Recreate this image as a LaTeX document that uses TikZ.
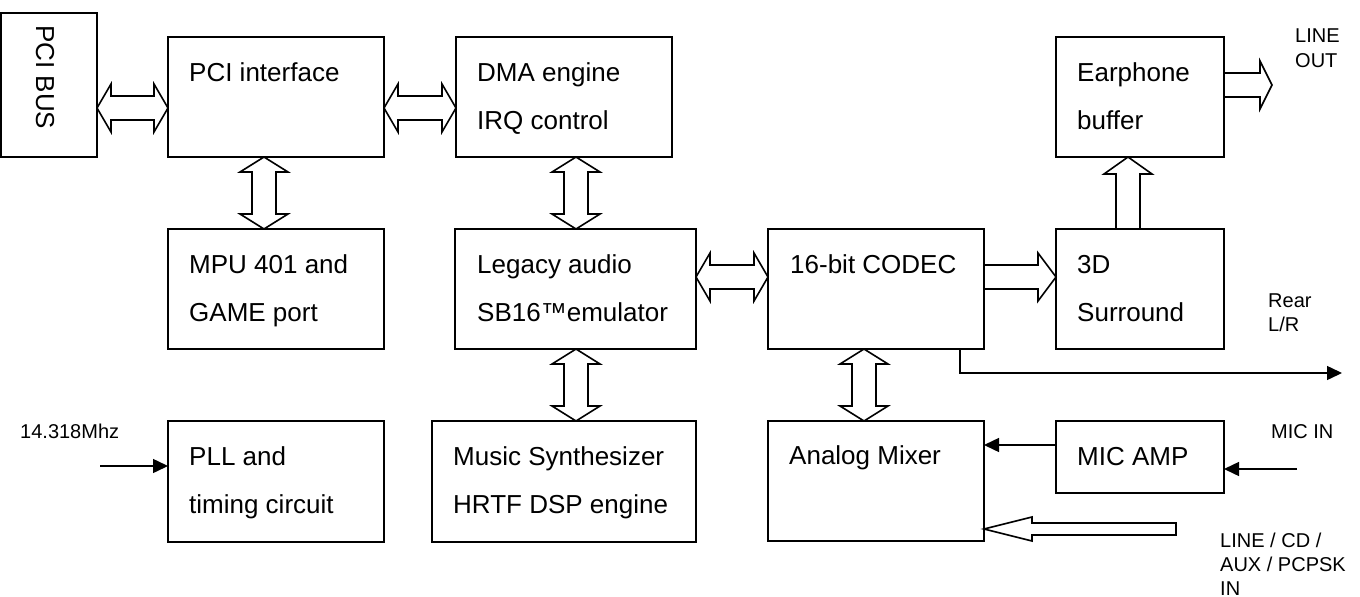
\documentclass[tikz,border=0pt]{standalone}
\usepackage{fontspec}
\setmainfont{Liberation Sans}
\usetikzlibrary{calc,arrows.meta}
% hollow double block arrow between two tips, fixed widths
\newcommand\dblarrow[3]{%
  \path (#1) coordinate (da) (#2) coordinate (db)
        ($(da)!#3!(db)$) coordinate (dA) ($(db)!#3!(da)$) coordinate (dB);
  \draw[blk] (da) -- ($(dA)!24pt!90:(db)$) -- ($(dA)!12pt!90:(db)$)
     -- ($(dB)!12pt!-90:(da)$) -- ($(dB)!24pt!-90:(da)$) -- (db)
     -- ($(dB)!24pt!90:(da)$) -- ($(dB)!12pt!90:(da)$)
     -- ($(dA)!12pt!-90:(db)$) -- ($(dA)!24pt!-90:(db)$) -- cycle;}
% hollow single block arrow: tail, tip, head length, head half width, shaft half width
\newcommand\sglarrow[5]{%
  \path (#1) coordinate (sa) (#2) coordinate (sb) ($(sb)!#3!(sa)$) coordinate (sB);
  \draw[blk] ($(sa)!#5!90:(sb)$) -- ($(sB)!#5!-90:(sa)$) -- ($(sB)!#4!-90:(sa)$)
     -- (sb) -- ($(sB)!#4!90:(sa)$) -- ($(sB)!#5!90:(sa)$)
     -- ($(sa)!#5!-90:(sb)$) -- cycle;}
\newcommand\bx[5]{\node[box,minimum width=#4pt,minimum height=#5pt] (#1) at (#2,#3) {};}
\begin{document}
\begin{tikzpicture}[x=1pt,y=-1pt,
  box/.style={draw,line width=1.6pt,anchor=north west,inner sep=0pt,outer sep=0pt},
  txt/.style={anchor=base west,inner sep=0pt,font=\fontsize{26}{30}\selectfont},
  lbl/.style={anchor=base west,inner sep=0pt,font=\fontsize{20}{24}\selectfont},
  blk/.style={draw,line width=1.6pt,fill=white,line join=miter},
  sig/.style={line width=1.5pt,-{Triangle[length=15pt,width=14pt]}}]
\useasboundingbox (0,0) rectangle (1360,597);

% boxes
\bx{bus}{1}{13}{96}{144}
\bx{pci}{168}{37}{216}{120}
\bx{dma}{456}{37}{216}{120}
\bx{ear}{1056}{37}{168}{120}
\bx{mpu}{168}{229}{216}{120}
\bx{leg}{455}{229}{241}{120}
\bx{codec}{768}{229}{216}{120}
\bx{sur}{1056}{229}{168}{120}
\bx{pll}{168}{421}{216}{121}
\bx{mus}{432}{421}{264}{121}
\bx{mixer}{768}{421}{216}{120}
\bx{micamp}{1056}{421}{168}{72}

% box texts
\node[txt,rotate=-90,anchor=west] (busT) at (45,25) {PCI BUS};
\node[txt] (pciT) at ([shift={(21,44)}]pci.north west) {PCI interface};
\node[txt] (dmaT1) at ([shift={(21,44)}]dma.north west) {DMA engine};
\node[txt] (dmaT2) at ([shift={(21,92)}]dma.north west) {IRQ control};
\node[txt] (earT1) at ([shift={(21,44)}]ear.north west) {Earphone};
\node[txt] (earT2) at ([shift={(21,92)}]ear.north west) {buffer};
\node[txt] (mpuT1) at ([shift={(21,44)}]mpu.north west) {MPU 401 and};
\node[txt] (mpuT2) at ([shift={(21,92)}]mpu.north west) {GAME port};
\node[txt] (legT1) at ([shift={(22,44)}]leg.north west) {Legacy audio};
\node[txt] (legT2) at ([shift={(22,92)}]leg.north west) {SB16™emulator};
\node[txt] (codecT) at ([shift={(22,44)}]codec.north west) {16-bit CODEC};
\node[txt] (surT1) at ([shift={(21,44)}]sur.north west) {3D};
\node[txt] (surT2) at ([shift={(21,92)}]sur.north west) {Surround};
\node[txt] (pllT1) at ([shift={(21,44)}]pll.north west) {PLL and};
\node[txt] (pllT2) at ([shift={(21,92)}]pll.north west) {timing circuit};
\node[txt] (musT1) at ([shift={(21,44)}]mus.north west) {Music Synthesizer};
\node[txt] (musT2) at ([shift={(21,92)}]mus.north west) {HRTF DSP engine};
\node[txt] (mixerT) at ([shift={(21,43)}]mixer.north west) {Analog Mixer};
\node[txt] (micampT) at ([shift={(21,44)}]micamp.north west) {MIC AMP};

% outside labels
\node[lbl] (lo1) at (1295,42) {LINE};
\node[lbl] (lo2) at (1295,67) {OUT};
\node[lbl] (rr1) at (1268,307) {Rear};
\node[lbl] (rr2) at (1268,331) {L/R};
\node[lbl] (micinT) at (1271,438) {MIC IN};
\node[lbl] (clkT) at (20,438) {14.318Mhz};
\node[lbl] (lc1) at (1220,547) {LINE / CD /};
\node[lbl] (lc2) at (1220,571) {AUX / PCPSK};
\node[lbl] (lc3) at (1220,595) {IN};

% helper coordinates
\coordinate (y108) at (0,108);
\coordinate (y277) at (0,277);
\coordinate (y85) at (0,85);
\coordinate (y529) at (0,529);
\coordinate (y445) at (0,445);
\coordinate (x264) at (264,0);
\coordinate (x576) at (576,0);
\coordinate (x864) at (864,0);
\coordinate (x960) at (960,0);
\coordinate (x1128) at (1128,0);
\coordinate (lineout) at (1272,85);
\coordinate (linein) at (1176,529);
\coordinate (rearend) at (1342,373);
\coordinate (clk) at (100,466);
\coordinate (micin) at (1297,469);

% block arrows
\dblarrow{bus.east |- y108}{pci.west |- y108}{14pt}
\dblarrow{pci.east |- y108}{dma.west |- y108}{14pt}
\dblarrow{pci.south -| x264}{mpu.north -| x264}{15pt}
\dblarrow{dma.south -| x576}{leg.north -| x576}{15pt}
\dblarrow{leg.south -| x576}{mus.north -| x576}{15pt}
\dblarrow{leg.east |- y277}{codec.west |- y277}{14pt}
\dblarrow{codec.south -| x864}{mixer.north -| x864}{15pt}
\sglarrow{codec.east |- y277}{sur.west |- y277}{18pt}{24pt}{12pt}
\sglarrow{sur.north -| x1128}{ear.south -| x1128}{17pt}{24pt}{12pt}
\sglarrow{ear.east |- y85}{lineout}{12pt}{24pt}{12pt}
\sglarrow{linein}{mixer.east |- y529}{48pt}{12pt}{6pt}

% signal arrows
\draw[sig] (codec.south -| x960) |- (rearend);
\draw[sig] (clk) -- (clk -| pll.west);
\draw[sig] (micin) -- (micin -| micamp.east);
\draw[sig] (micamp.west |- y445) -- (mixer.east |- y445);
\end{tikzpicture}
\end{document}
